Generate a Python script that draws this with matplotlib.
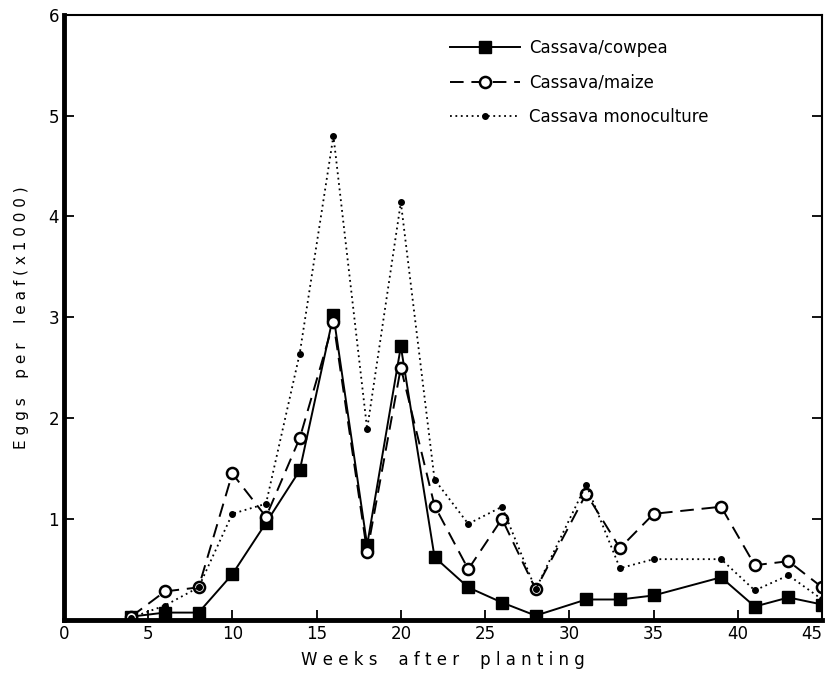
from matplotlib import pyplot as plt
from matplotlib.legend_handler import HandlerLine2D

# Weeks after planting for each sampling
weeks = [4, 6, 8, 10, 12, 14, 16, 18, 20, 22, 24, 26, 28, 31, 33, 35, 39, 41, 43, 45]

# Eggs per leaf (x1000)
cowpea = [0.03, 0.07, 0.07, 0.45, 0.96, 1.48, 3.02, 0.74, 2.71, 0.62, 0.32, 0.17,
          0.04, 0.2, 0.2, 0.24, 0.42, 0.13, 0.22, 0.15]
maize = [0.03, 0.28, 0.32, 1.45, 1.02, 1.8, 2.95, 0.67, 2.5, 1.13, 0.5, 1.0,
         0.3, 1.25, 0.71, 1.05, 1.12, 0.54, 0.58, 0.32]
mono = [0.02, 0.14, 0.32, 1.05, 1.15, 2.64, 4.8, 1.89, 4.14, 1.39, 0.95, 1.12,
        0.3, 1.34, 0.51, 0.6, 0.6, 0.29, 0.44, 0.2]

labels = ["Cassava/cowpea", "Cassava/maize", "Cassava monoculture"]
x_ticks = [0, 5, 10, 15, 20, 25, 30, 35, 40, 45]
y_ticks = [1, 2, 3, 4, 5, 6]


class LeftMarker(HandlerLine2D):
    """Puts the legend marker at the left end of the line"""
    def get_xdata(self, legend, xdescent, ydescent, width, height, fontsize):
        xdata, _ = super().get_xdata(legend, xdescent, ydescent, width, height, fontsize)
        return xdata, [xdata[0]]


fig = plt.figure(figsize=(8.28, 6.75), dpi=100)
ax = fig.add_axes([0.077, 0.082, 0.916, 0.896])

ax.plot(weeks, cowpea, "-", color="black", lw=1.4, marker="s", ms=8,
        mfc="black", label=labels[0])
ax.plot(weeks, maize, color="black", lw=1.4, ls=(0, (7, 4)), marker="o", ms=8,
        mfc="white", mew=1.8, label=labels[1])
ax.plot(weeks, mono, color="black", lw=1.3, ls=(0, (1, 2)), marker="o", ms=4,
        mfc="black", label=labels[2])

ax.set_xlim(0, 45)
ax.set_ylim(0, 6)
ax.set_xticks(x_ticks)
ax.set_yticks(y_ticks)
ax.tick_params(direction="in", length=7, width=1.3, labelsize=12, right=True,
               top=False)
# last x label sits inside the right edge
ax.get_xticklabels()[-1].set_horizontalalignment("right")
for s in ax.spines.values():
    s.set_linewidth(1.5)
ax.spines["left"].set_linewidth(3.5)
ax.spines["bottom"].set_linewidth(3.5)

ax.set_xlabel("W e e k s    a f t e r    p l a n t i n g", fontsize=12,
              labelpad=6)
ax.set_ylabel("E g g s    p e r    l e a f ( x 1 0 0 0 )", fontsize=11,
              labelpad=14)

leg = ax.legend(loc="upper left", bbox_to_anchor=(0.49, 0.985), frameon=False,
                fontsize=12, handlelength=4.2, handletextpad=0.5, labelspacing=1.0,
                numpoints=1, handler_map={plt.Line2D: LeftMarker()})

fig.savefig("out.png", dpi=100)
plt.close()
